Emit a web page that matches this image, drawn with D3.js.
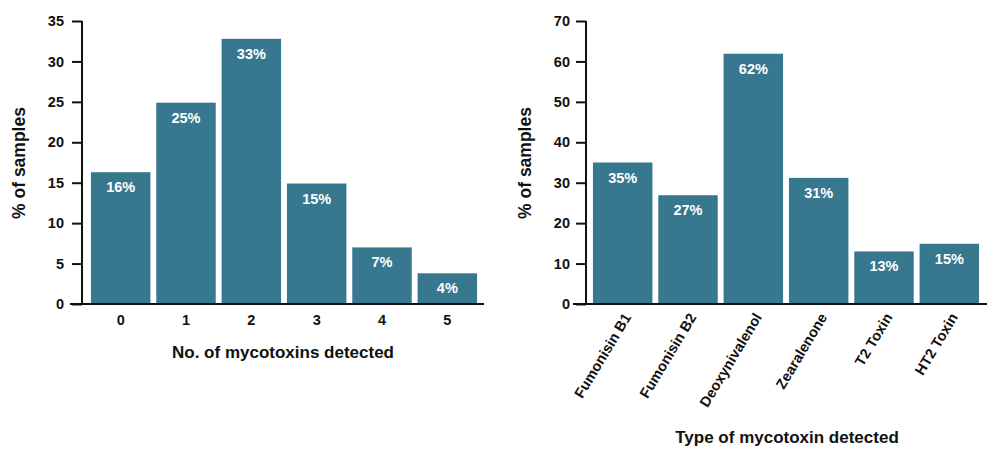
<!DOCTYPE html>
<html><head><meta charset="utf-8">
<script src="https://cdn.jsdelivr.net/npm/d3@7"></script>
<style>body{margin:0;background:#fff}svg{display:block}text{font-family:"Liberation Sans",Arial,sans-serif;font-weight:bold}</style>
</head><body>
<svg id="c" width="999" height="461"></svg>
<script>
const countCategories = ["0","1","2","3","4","5"];
const countValues = [16.3, 24.9, 32.8, 14.9, 7.0, 3.8];
const countLabels = ["16%","25%","33%","15%","7%","4%"];
const countTicks = [0,5,10,15,20,25,30,35];

const typeCategories = ["Fumonisin B1","Fumonisin B2","Deoxynivalenol","Zearalenone","T2 Toxin","HT2 Toxin"];
const typeValues = [35.0, 26.9, 61.9, 31.2, 13.0, 14.9];
const typeLabels = ["35%","27%","62%","31%","13%","15%"];
const typeTicks = [0,10,20,30,40,50,60,70];

const svg = d3.select("#c");
const fill = "#37788f";

function panel(o){
  const g = svg.append("g");
  const x = d3.scaleBand().domain(o.cats).range([o.x0, o.x1]).paddingInner(0.09).paddingOuter(0.045);
  const y = d3.scaleLinear().domain([0, o.max]).range([304, 21]);
  g.selectAll("rect").data(o.vals).enter().append("rect")
    .attr("x",(d,i)=>x(o.cats[i])).attr("width",x.bandwidth())
    .attr("y",d=>y(d)).attr("height",d=>y(0)-y(d)).attr("fill",fill);
  g.selectAll("text.val").data(o.vals).enter().append("text").attr("class","val")
    .attr("x",(d,i)=>x(o.cats[i])+x.bandwidth()/2).attr("y",d=>y(d)+20)
    .attr("text-anchor","middle").attr("fill","#fff").attr("font-size",14.5)
    .text((d,i)=>o.labels[i]);
  const ya = g.append("g").attr("transform",`translate(${o.yx},0)`)
    .call(d3.axisLeft(y).tickValues(o.ticks).tickSize(10).tickPadding(o.pad));
  ya.select(".domain").attr("stroke","#111").attr("stroke-width",2).attr("d",`M0,${y(o.max)}V${y(0)}`);
  ya.selectAll(".tick line").attr("stroke","#111").attr("stroke-width",2);
  ya.selectAll(".tick text").attr("fill","#111").attr("font-size",14.5).attr("font-family","Liberation Sans, Arial, sans-serif").attr("font-weight","bold");
  g.append("line").attr("x1",o.xl0).attr("x2",o.xl1).attr("y1",y(0)).attr("y2",y(0)).attr("stroke","#111").attr("stroke-width",2);
  g.append("text").attr("transform",`translate(${o.ytx},163) rotate(-90)`).attr("text-anchor","middle")
    .attr("font-size",17.5).attr("fill","#111").text("% of samples");
  if(o.rot){
    g.selectAll("text.xl").data(o.cats).enter().append("text").attr("class","xl")
      .attr("transform",d=>`translate(${x(d)+x.bandwidth()/2+9},317) rotate(-59)`)
      .attr("text-anchor","end").attr("font-size",14.5).attr("fill","#111").text(d=>d);
  } else {
    g.selectAll("text.xl").data(o.cats).enter().append("text").attr("class","xl")
      .attr("x",d=>x(d)+x.bandwidth()/2).attr("y",325)
      .attr("text-anchor","middle").attr("font-size",14.5).attr("fill","#111").text(d=>d);
  }
  g.append("text").attr("x",o.xtx).attr("y",o.xty).attr("text-anchor","middle")
    .attr("font-size",17).attr("fill","#111").text(o.xtitle);
}

panel({cats:countCategories, vals:countValues, labels:countLabels, ticks:countTicks, max:35, pad:8,
  x0:88, x1:480, yx:82, xl0:70, xl1:484, ytx:25, xtx:283, xty:358, xtitle:"No. of mycotoxins detected", rot:false});
panel({cats:typeCategories, vals:typeValues, labels:typeLabels, ticks:typeTicks, max:70, pad:6,
  x0:590, x1:982, yx:586, xl0:573, xl1:987, ytx:531, xtx:787, xty:443, xtitle:"Type of mycotoxin detected", rot:true});
</script>
</body></html>
